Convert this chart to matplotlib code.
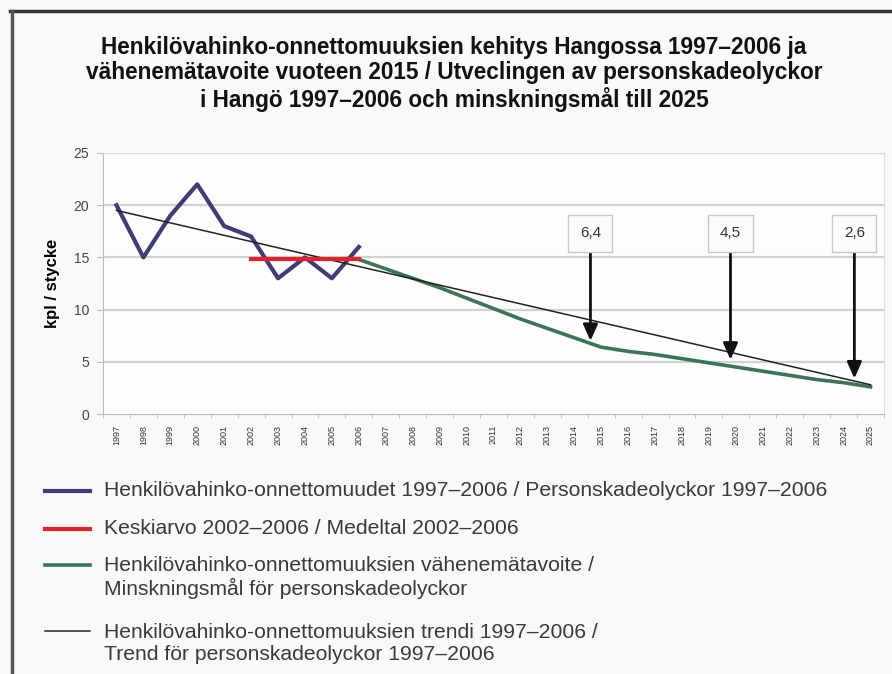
import numpy as np
import matplotlib
matplotlib.use("Agg")
import matplotlib.pyplot as plt
from matplotlib.lines import Line2D

plt.rcParams['font.family'] = ['Liberation Sans', 'DejaVu Sans']

# data
years = list(range(1997, 2026))
obs_years = list(range(1997, 2007))
obs_vals = [20, 15, 19, 22, 18, 17, 13, 15, 13, 16]
mean_years = [2002, 2006]
mean_vals = [14.8, 14.8]
goal_years = list(range(2006, 2026))
goal_vals = [14.8, 13.9, 13.0, 12.1, 11.1, 10.1, 9.1, 8.2, 7.3, 6.4,
             6.0, 5.7, 5.3, 4.9, 4.5, 4.1, 3.7, 3.3, 3.0, 2.6]
trend_years = [1997, 2025]
trend_vals = [19.5, 2.8]
note_texts = ["6,4", "4,5", "2,6"]
note_x = [2014.6, 2019.8, 2024.4]
note_tip = [7.0, 5.2, 3.4]
note_box_y = 17.3

title = ("Henkilövahinko-onnettomuuksien kehitys Hangossa 1997–2006 ja\n"
         "vähenemätavoite vuoteen 2015 / Utveclingen av personskadeolyckor\n"
         "i Hangö 1997–2006 och minskningsmål till 2025")
labels = ["Henkilövahinko-onnettomuudet 1997–2006 / Personskadeolyckor 1997–2006",
          "Keskiarvo 2002–2006 / Medeltal 2002–2006",
          "Henkilövahinko-onnettomuuksien vähenemätavoite /\nMinskningsmål för personskadeolyckor",
          "Henkilövahinko-onnettomuuksien trendi 1997–2006 /\nTrend för personskadeolyckor 1997–2006"]

c_obs = "#3d3d78"
c_mean = "#e3222b"
c_goal = "#3b7555"
c_trend = "#222222"

fig = plt.figure(figsize=(8.92, 6.74), dpi=100)
fig.patch.set_facecolor("#f9f9f7")
ax = fig.add_axes([103/892, 1-414/674, (884-103)/892, (414-153)/674])
ax.set_facecolor("#fdfdfc")

for y in [5, 10, 15, 20, 25]:
    ax.axhline(y, color="#d2d2d2", lw=1.6, zorder=0)

l1, = ax.plot(obs_years, obs_vals, color=c_obs, lw=3, zorder=3)
l4, = ax.plot(trend_years, trend_vals, color=c_trend, lw=1.1, zorder=4)
l3, = ax.plot(goal_years, goal_vals, color=c_goal, lw=2.6, zorder=3)
l2, = ax.plot(mean_years, mean_vals, color=c_mean, lw=3, zorder=5)

for t, x, tip in zip(note_texts, note_x, note_tip):
    ax.annotate(t, xy=(x, tip), xytext=(x, note_box_y), ha="center", va="center",
                fontsize=11, color="#333333",
                bbox=dict(boxstyle="square,pad=0.75", fc="#fbfbfb", ec="#c8c8c8", lw=1),
                arrowprops=dict(arrowstyle="-|>,head_length=0.9,head_width=0.4",
                                color="#111111", lw=2, shrinkA=0, shrinkB=0),
                zorder=6)

ax.set_xlim(1996.5, 2025.5)
ax.set_ylim(0, 25)
ax.set_yticks([0, 5, 10, 15, 20, 25])
ax.set_xticks(years)
ax.set_xticklabels([str(y) for y in years], rotation=90, fontsize=6.5, color="#333333")
ax.set_xticks(np.arange(1996.5, 2026, 1), minor=True)
ax.tick_params(axis="x", which="major", length=0, pad=8)
ax.tick_params(axis="x", which="minor", length=3, color="#bbbbbb")
ax.tick_params(axis="y", length=4, color="#bbbbbb", labelsize=10, labelcolor="#444444", pad=6)
for s in ["top", "right"]:
    ax.spines[s].set_color("#dddddd")
for s in ["left", "bottom"]:
    ax.spines[s].set_color("#bbbbbb")
ax.set_ylabel("kpl / stycke", fontsize=12, fontweight="bold", labelpad=10)

fig.text(454/892, 1-74/674, title, ha="center", va="center", fontsize=16.3,
         fontweight="bold", linespacing=1.12, color="#111111")

# legend drawn below the plot
rows = [491, 529, 565, 631]
for lab, line, r in zip(labels, [l1, l2, l3, l4], rows):
    yy = 1 - r/674
    fig.add_artist(Line2D([45/892, 90/892], [yy, yy], color=line.get_color(),
                          lw=line.get_linewidth(), transform=fig.transFigure))
    ty = yy - 12.5/674 if "\n" in lab else yy
    fig.text(104/892, ty, lab, ha="left", va="center",
             fontsize=15.2, color="#3a3a3a", linespacing=1.15,
             transform=fig.transFigure)

# frame
fig.add_artist(Line2D([10/892, 1], [1-11/674, 1-11/674], color="#333333", lw=2.5,
                      transform=fig.transFigure))
fig.add_artist(Line2D([12/892, 12/892], [0, 1-11/674], color="#555555", lw=2.5,
                      transform=fig.transFigure))

fig.savefig("out.png", dpi=100, facecolor=fig.get_facecolor())
